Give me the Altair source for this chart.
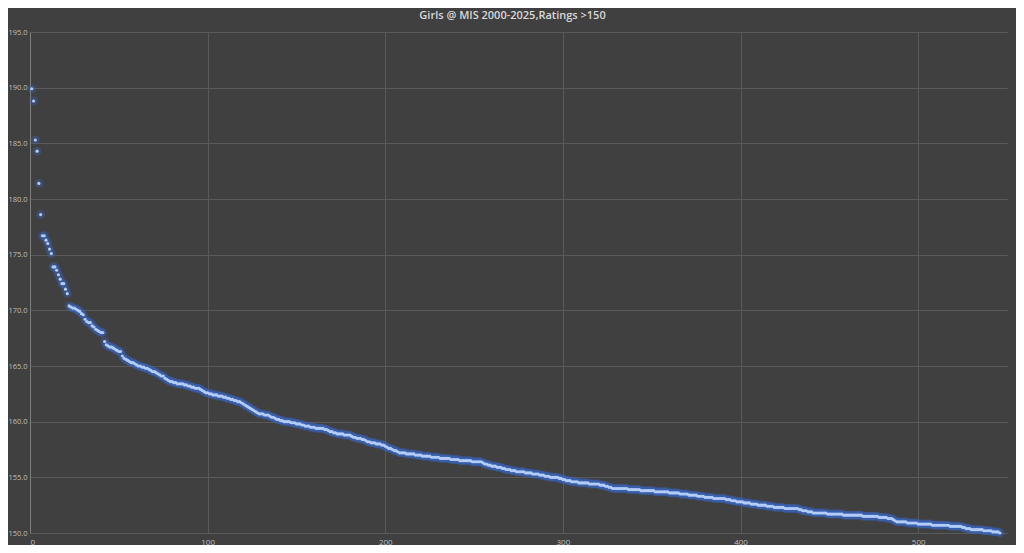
import altair as alt
import pandas as pd

title_text = "Girls @ MIS 2000-2025,Ratings >150"

ratings = [
    189.9, 188.8, 185.3, 184.3, 181.4, 178.6, 176.7, 176.7, 176.3, 176.0,
    175.5, 175.1, 173.9, 173.9, 173.6, 173.2, 172.8, 172.4, 172.4, 171.9,
    171.5, 170.4, 170.3, 170.2, 170.2, 170.1, 170.0, 169.9, 169.7, 169.6,
    169.2, 169.0, 168.9, 168.9, 168.6, 168.5, 168.3, 168.2, 168.1, 168.0,
    168.0, 167.2, 166.9, 166.8, 166.7, 166.7, 166.6, 166.5, 166.4, 166.3,
    166.3, 165.9, 165.7, 165.6, 165.5, 165.4, 165.3, 165.3, 165.2, 165.1,
    165.0, 165.0, 164.9, 164.9, 164.8, 164.8, 164.7, 164.6, 164.5, 164.5,
    164.4, 164.3, 164.2, 164.1, 164.1, 163.9, 163.8, 163.7, 163.6, 163.6,
    163.5, 163.5, 163.4, 163.4, 163.4, 163.4, 163.3, 163.3, 163.2, 163.2,
    163.1, 163.1, 163.0, 163.0, 163.0, 162.9, 162.8, 162.7, 162.6, 162.6,
    162.5, 162.5, 162.4, 162.4, 162.4, 162.3, 162.3, 162.3, 162.2, 162.2,
    162.1, 162.1, 162.0, 162.0, 161.9, 161.9, 161.8, 161.8, 161.7, 161.6,
    161.5, 161.4, 161.3, 161.2, 161.1, 161.0, 160.9, 160.8, 160.7, 160.7,
    160.7, 160.6, 160.6, 160.6, 160.5, 160.4, 160.4, 160.3, 160.2, 160.2,
    160.1, 160.1, 160.0, 160.0, 160.0, 160.0, 159.9, 159.9, 159.9, 159.8,
    159.8, 159.8, 159.7, 159.7, 159.6, 159.6, 159.6, 159.5, 159.5, 159.5,
    159.4, 159.4, 159.4, 159.4, 159.4, 159.3, 159.3, 159.2, 159.1, 159.1,
    159.0, 159.0, 158.9, 158.9, 158.9, 158.9, 158.8, 158.8, 158.8, 158.8,
    158.7, 158.6, 158.6, 158.5, 158.5, 158.5, 158.4, 158.4, 158.3, 158.2,
    158.2, 158.1, 158.1, 158.1, 158.0, 158.0, 158.0, 157.9, 157.9, 157.8,
    157.7, 157.6, 157.6, 157.5, 157.4, 157.4, 157.3, 157.2, 157.2, 157.2,
    157.2, 157.1, 157.1, 157.1, 157.1, 157.1, 157.0, 157.0, 157.0, 157.0,
    156.9, 156.9, 156.9, 156.9, 156.9, 156.8, 156.8, 156.8, 156.8, 156.8,
    156.7, 156.7, 156.7, 156.7, 156.7, 156.7, 156.6, 156.6, 156.6, 156.6,
    156.6, 156.5, 156.5, 156.5, 156.5, 156.5, 156.5, 156.5, 156.4, 156.4,
    156.4, 156.4, 156.4, 156.4, 156.3, 156.2, 156.2, 156.1, 156.1, 156.0,
    156.0, 156.0, 155.9, 155.9, 155.9, 155.8, 155.8, 155.7, 155.7, 155.7,
    155.6, 155.6, 155.6, 155.5, 155.5, 155.5, 155.5, 155.5, 155.4, 155.4,
    155.4, 155.4, 155.3, 155.3, 155.3, 155.3, 155.2, 155.2, 155.2, 155.1,
    155.1, 155.1, 155.0, 155.0, 155.0, 155.0, 155.0, 154.9, 154.9, 154.8,
    154.8, 154.7, 154.7, 154.7, 154.6, 154.6, 154.6, 154.6, 154.5, 154.5,
    154.5, 154.5, 154.5, 154.5, 154.4, 154.4, 154.4, 154.4, 154.4, 154.4,
    154.3, 154.3, 154.3, 154.2, 154.2, 154.1, 154.1, 154.0, 154.0, 154.0,
    154.0, 154.0, 154.0, 154.0, 154.0, 154.0, 153.9, 153.9, 153.9, 153.9,
    153.9, 153.9, 153.9, 153.8, 153.8, 153.8, 153.8, 153.8, 153.8, 153.8,
    153.8, 153.7, 153.7, 153.7, 153.7, 153.7, 153.7, 153.7, 153.7, 153.6,
    153.6, 153.6, 153.6, 153.6, 153.6, 153.5, 153.5, 153.5, 153.5, 153.5,
    153.4, 153.4, 153.4, 153.4, 153.4, 153.3, 153.3, 153.3, 153.3, 153.2,
    153.2, 153.2, 153.2, 153.2, 153.1, 153.1, 153.1, 153.1, 153.1, 153.1,
    153.1, 153.0, 153.0, 153.0, 152.9, 152.9, 152.9, 152.8, 152.8, 152.8,
    152.8, 152.7, 152.7, 152.7, 152.7, 152.6, 152.6, 152.6, 152.6, 152.5,
    152.5, 152.5, 152.5, 152.5, 152.4, 152.4, 152.4, 152.4, 152.3, 152.3,
    152.3, 152.3, 152.3, 152.3, 152.2, 152.2, 152.2, 152.2, 152.2, 152.2,
    152.2, 152.2, 152.1, 152.1, 152.0, 152.0, 152.0, 151.9, 151.9, 151.9,
    151.8, 151.8, 151.8, 151.8, 151.8, 151.8, 151.8, 151.8, 151.7, 151.7,
    151.7, 151.7, 151.7, 151.7, 151.7, 151.7, 151.7, 151.6, 151.6, 151.6,
    151.6, 151.6, 151.6, 151.6, 151.6, 151.6, 151.6, 151.6, 151.5, 151.5,
    151.5, 151.5, 151.5, 151.5, 151.5, 151.5, 151.5, 151.4, 151.4, 151.4,
    151.4, 151.4, 151.3, 151.3, 151.3, 151.2, 151.1, 151.0, 151.0, 151.0,
    151.0, 151.0, 151.0, 150.9, 150.9, 150.9, 150.9, 150.9, 150.9, 150.8,
    150.8, 150.8, 150.8, 150.8, 150.8, 150.8, 150.8, 150.7, 150.7, 150.7,
    150.7, 150.7, 150.7, 150.7, 150.7, 150.7, 150.7, 150.6, 150.6, 150.6,
    150.6, 150.6, 150.6, 150.6, 150.5, 150.5, 150.4, 150.4, 150.4, 150.3,
    150.3, 150.3, 150.3, 150.3, 150.3, 150.3, 150.2, 150.2, 150.2, 150.2,
    150.2, 150.1, 150.1, 150.1, 150.1, 150.0,
]
ranks = list(range(1, len(ratings) + 1))

x_ticks = [0, 100, 200, 300, 400, 500]
y_ticks = [150, 155, 160, 165, 170, 175, 180, 185, 190, 195]

df = pd.DataFrame({"rank": ranks, "rating": ratings})

x_enc = alt.X("rank:Q", scale=alt.Scale(domain=[0, 550], nice=False),
              axis=alt.Axis(values=x_ticks, title=None, grid=True, domain=False,
                            ticks=False, labelPadding=5))
y_enc = alt.Y("rating:Q", scale=alt.Scale(domain=[150, 195], nice=False, zero=False),
              axis=alt.Axis(values=y_ticks, format=".1f", title=None, grid=True,
                            domain=True, domainColor="#7f7f7f", ticks=False,
                            labelPadding=3, labelFontSize=7.5))

base = alt.Chart(df)
glow = base.mark_circle(size=80, color="#3a66c4", opacity=0.33).encode(x=x_enc, y=y_enc)
dots = base.mark_circle(size=10, color="#b4cdf8", opacity=1).encode(x=x_enc, y=y_enc)

chart = (
    alt.layer(glow, dots)
    .properties(
        width=977,
        height=501,
        title=alt.TitleParams(title_text, font="Open Sans", fontSize=11, fontWeight=600,
                              color="#d9d9d9", anchor="middle", offset=7, dx=-6),
        background="#404040",
        padding={"left": 22, "top": 24, "right": 9, "bottom": 12},
        autosize=alt.AutoSizeParams(type="none"),
    )
    .configure_view(stroke=None)
    .configure_axis(
        labelFont="Open Sans",
        labelFontSize=8,
        labelColor="#bfbfbf",
        gridColor="#5a5a5a",
        gridWidth=1,
    )
)

chart.save("out.html", embed_options={"renderer": "svg", "actions": False})
